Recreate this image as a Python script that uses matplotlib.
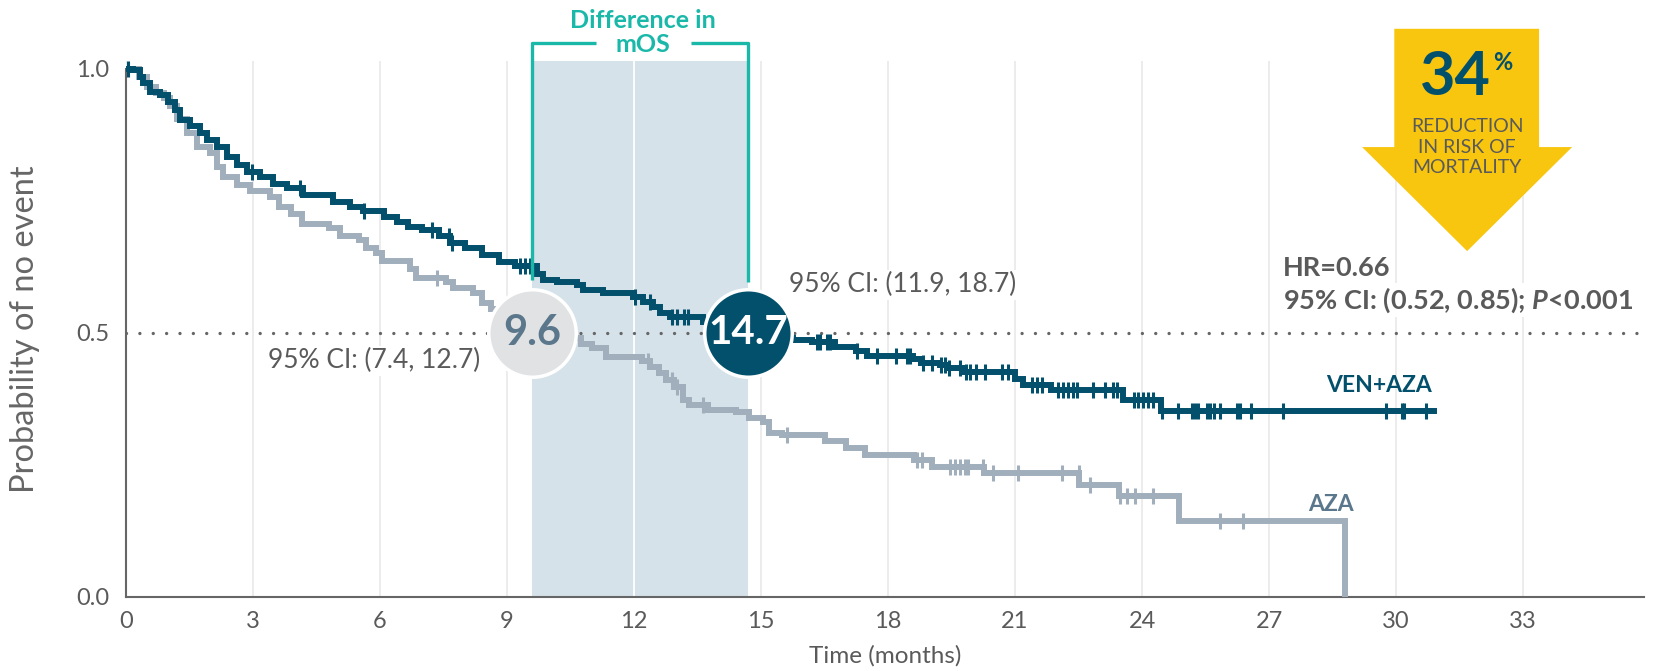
import numpy as np
import matplotlib
matplotlib.use("Agg")
import matplotlib.pyplot as plt
from matplotlib.patches import Polygon

plt.rcParams["font.family"] = ["Lato", "DejaVu Sans"]
plt.rcParams["mathtext.fontset"] = "custom"
plt.rcParams["mathtext.rm"] = "Lato:bold"
plt.rcParams["mathtext.it"] = "Lato:bold:italic"

# ── Data ──────────────────────────────────────────────────────────────────
VEN_T = [0, 0.17, 0.33, 0.41, 0.57, 0.8, 1.0, 1.16, 1.28, 1.51, 1.75, 1.91, 2.14, 2.38,
         2.61, 2.85, 3.17, 3.48, 3.8, 4.19, 4.9, 5.3, 5.6, 6.1, 6.4, 6.65, 7.0, 7.4,
         7.65, 8.0, 8.4, 8.8, 9.2, 9.7, 9.86, 10.17, 10.65, 10.8, 11.27, 11.98, 12.22,
         12.46, 12.62, 12.85, 13.64, 14.2, 14.7, 15.2, 15.75, 16.2, 16.75, 17.25, 17.5,
         18.6, 18.77, 19.22, 19.4, 19.76, 21.0, 21.2, 21.85, 23.55, 24.45]
VEN_S = [1.0, 0.998, 0.985, 0.973, 0.957, 0.951, 0.938, 0.922, 0.903, 0.891, 0.878, 0.866,
         0.853, 0.834, 0.818, 0.805, 0.796, 0.783, 0.774, 0.761, 0.748, 0.738, 0.730,
         0.720, 0.710, 0.700, 0.695, 0.683, 0.670, 0.660, 0.648, 0.635, 0.626, 0.612,
         0.600, 0.596, 0.591, 0.581, 0.575, 0.569, 0.559, 0.550, 0.537, 0.531, 0.521,
         0.511, 0.500, 0.490, 0.487, 0.483, 0.474, 0.465, 0.457, 0.451, 0.443, 0.440,
         0.434, 0.426, 0.413, 0.402, 0.392, 0.373, 0.353]
VEN_END = 30.9
VEN_CENSOR = [0.05, 2.97, 4.11, 5.61, 7.22, 7.62, 7.69, 9.31, 9.43, 9.54, 12.02, 12.38,
              12.89, 13.01, 13.17, 13.28, 16.32, 16.4, 16.55, 16.63, 17.26, 17.75, 18.2,
              18.45, 18.52, 18.82, 19.04, 19.25, 19.35, 19.44, 19.71, 19.85, 19.94, 20.07,
              20.3, 20.7, 20.84, 21.39, 21.51, 21.63, 22.02, 22.14, 22.26, 22.38, 22.46,
              22.85, 23.13, 23.32, 23.4, 23.8, 23.91, 24.03, 24.15, 24.27, 24.47, 24.86,
              25.18, 25.25, 25.33, 25.53, 25.61, 25.69, 25.84, 26.24, 26.32, 26.57, 27.33,
              29.77, 30.13, 30.18, 30.72]

AZA_T = [0, 0.3, 0.5, 0.7, 0.9, 1.05, 1.2, 1.43, 1.67, 1.98, 2.14, 2.3, 2.61, 2.93, 3.4,
         3.62, 3.9, 4.15, 4.8, 5.05, 5.5, 5.68, 5.9, 6.05, 6.7, 6.85, 7.55, 7.72, 8.2,
         8.42, 8.62, 8.76, 9.1, 9.6, 9.9, 10.75, 11.0, 11.33, 12.2, 12.38, 12.6, 12.75,
         12.95, 13.15, 13.3, 13.75, 14.4, 14.72, 15.05, 15.2, 15.5, 16.5, 17.0, 17.45,
         18.62, 19.05, 20.27, 22.52, 23.46, 24.88, 28.8]
AZA_S = [1.0, 0.985, 0.965, 0.955, 0.945, 0.93, 0.905, 0.878, 0.853, 0.84, 0.815, 0.796,
         0.78, 0.768, 0.758, 0.739, 0.725, 0.707, 0.698, 0.683, 0.676, 0.66, 0.651, 0.636,
         0.622, 0.604, 0.597, 0.585, 0.576, 0.557, 0.545, 0.535, 0.52, 0.50, 0.49, 0.48,
         0.471, 0.455, 0.446, 0.436, 0.424, 0.411, 0.398, 0.373, 0.364, 0.354, 0.35,
         0.338, 0.332, 0.31, 0.307, 0.295, 0.283, 0.269, 0.259, 0.246, 0.234, 0.213,
         0.191, 0.143, 0.0]
AZA_CENSOR = [7.34, 12.34, 12.89, 13.01, 13.64, 15.61, 18.68, 18.8, 19.47, 19.59, 19.71,
              19.82, 19.9, 20.25, 20.49, 21.08, 22.1, 22.5, 22.77, 23.48, 23.64, 23.84,
              24.27, 25.84, 26.39]

MEDIAN_AZA = 9.6
MEDIAN_VEN = 14.7
X_TICKS = list(range(0, 34, 3))
Y_TICKS = [0.0, 0.5, 1.0]

# ── Style ─────────────────────────────────────────────────────────────────
NAVY   = "#03506c"
SLATE  = "#a1afbc"
SLATE_TXT = "#5b778b"
TEAL   = "#1ab8a9"
YELLOW = "#f8c60f"
GREY   = "#5a5a5a"
SHADE  = "#d6e2ea"


def surv_at(times, surv, t):
    i = np.searchsorted(times, t, side="right") - 1
    return np.asarray(surv)[i]


fig = plt.figure(figsize=(16.54, 6.71), dpi=100)
ax = fig.add_axes([0.0762, 0.1103, 0.9178, 0.7988])
ax.set_xlim(0, 35.86)
ax.set_ylim(0, 1.015)

# grid + shaded mOS difference
ax.set_axisbelow(True)
ax.grid(axis="x", color="#ebebeb", lw=1.3)
ax.grid(axis="y", visible=False)
ax.axvspan(MEDIAN_AZA, MEDIAN_VEN, color=SHADE, lw=0, zorder=0.6)
ax.axvline(12, color="white", lw=1.3, zorder=0.7)

# dotted median line
ax.axhline(0.5, color="#666666", lw=2.4, ls=(0, (0.01, 4.0)), dash_capstyle="round",
           zorder=2)

# curves
for t, s, end, cens, col in [(AZA_T, AZA_S, None, AZA_CENSOR, SLATE),
                             (VEN_T, VEN_S, VEN_END, VEN_CENSOR, NAVY)]:
    tx, sy = list(t), list(s)
    if end is not None:
        tx.append(end)
        sy.append(s[-1])
    ax.step(tx, sy, where="post", color=col, lw=4.3, zorder=3, solid_joinstyle="miter")
    ax.plot(cens, surv_at(t, s, cens), ls="none", marker="|", ms=11, mew=2.2,
            color=col, zorder=3)

# bracket "Difference in mOS"
bk = dict(color=TEAL, lw=2.4, clip_on=False, zorder=4, solid_capstyle="butt")
ax.plot([MEDIAN_AZA, MEDIAN_AZA, 11.1], [0.6, 1.049, 1.049], **bk)
ax.plot([13.35, MEDIAN_VEN, MEDIAN_VEN], [1.049, 1.049, 0.597], **bk)
ax.text((MEDIAN_AZA + MEDIAN_VEN) / 2 + 0.05, 1.069, "Difference in\nmOS", ha="center",
        va="center", color=TEAL, fontsize=18, fontweight="bold", linespacing=1.05)

# median circles
ax.plot(MEDIAN_AZA, 0.5, "o", ms=63, mfc="#e1e2e4", mec="white", mew=2.5, zorder=6)
ax.text(MEDIAN_AZA, 0.5, f"{MEDIAN_AZA}", ha="center", va="center", color=SLATE_TXT,
        fontsize=30, fontweight="bold", zorder=7)
ax.plot(MEDIAN_VEN, 0.5, "o", ms=63, mfc=NAVY, mec="white", mew=2.5, zorder=6)
ax.text(MEDIAN_VEN, 0.5, f"{MEDIAN_VEN}", ha="center", va="center", color="white",
        fontsize=29, fontweight="bold", zorder=7)

box = dict(facecolor="white", edgecolor="none", pad=1.5)
ax.text(5.85, 0.447, "95% CI: (7.4, 12.7)", ha="center", va="center", color=GREY,
        fontsize=19, bbox=box, zorder=4)
ax.text(15.65, 0.591, "95% CI: (11.9, 18.7)", ha="left", va="center", color=GREY,
        fontsize=19, bbox=box, zorder=4)

ax.text(27.33, 0.623, "HR=0.66", ha="left", va="center", color=GREY, fontsize=19.5,
        fontweight="bold", bbox=box, zorder=4)
ax.text(27.33, 0.5625, r"95% CI: (0.52, 0.85); $P$<0.001", ha="left", va="center",
        color=GREY, fontsize=19.5, fontweight="bold", bbox=box, zorder=4)

ax.text(30.85, 0.40, "VEN+AZA", ha="right", va="center", color=NAVY, fontsize=16.5,
        fontweight="bold")
ax.text(29.0, 0.176, "AZA", ha="right", va="center", color=SLATE_TXT, fontsize=16.5,
        fontweight="bold")

# yellow arrow
arrow = Polygon([(29.96, 1.076), (33.38, 1.076), (33.38, 0.852), (34.16, 0.852),
                 (31.68, 0.655), (29.2, 0.852), (29.96, 0.852)],
                closed=True, facecolor=YELLOW, edgecolor="none", clip_on=False, zorder=5)
ax.add_patch(arrow)
ax.text(32.25, 0.985, "34", ha="right", va="center", color=NAVY, fontsize=44,
        fontweight="bold", zorder=6)
ax.text(32.3, 1.012, "%", ha="left", va="center", color=NAVY, fontsize=17,
        fontweight="bold", zorder=6)
ax.text(31.68, 0.852, "REDUCTION\nIN RISK OF\nMORTALITY", ha="center", va="center",
        color=GREY, fontsize=14, linespacing=1.25, zorder=6)

# axes
ax.set_xticks(X_TICKS)
ax.set_yticks(Y_TICKS)
ax.set_yticklabels([f"{v:.1f}" for v in Y_TICKS])
ax.tick_params(length=0, labelsize=17, labelcolor=GREY)
ax.tick_params(axis="x", pad=10)
ax.tick_params(axis="y", pad=12)
for side in ("top", "right"):
    ax.spines[side].set_visible(False)
for side in ("left", "bottom"):
    ax.spines[side].set_color("#666666")
    ax.spines[side].set_linewidth(1.5)
ax.spines["left"].set_bounds(0, 1)

ax.set_xlabel("Time (months)", fontsize=17.5, color=GREY)
ax.xaxis.set_label_coords(0.5, -0.09)
ax.set_ylabel("Probability of no event", fontsize=23.5, color="#666666")
ax.yaxis.set_label_coords(-0.057, 0.5)

fig.savefig("out.png", dpi=100)
